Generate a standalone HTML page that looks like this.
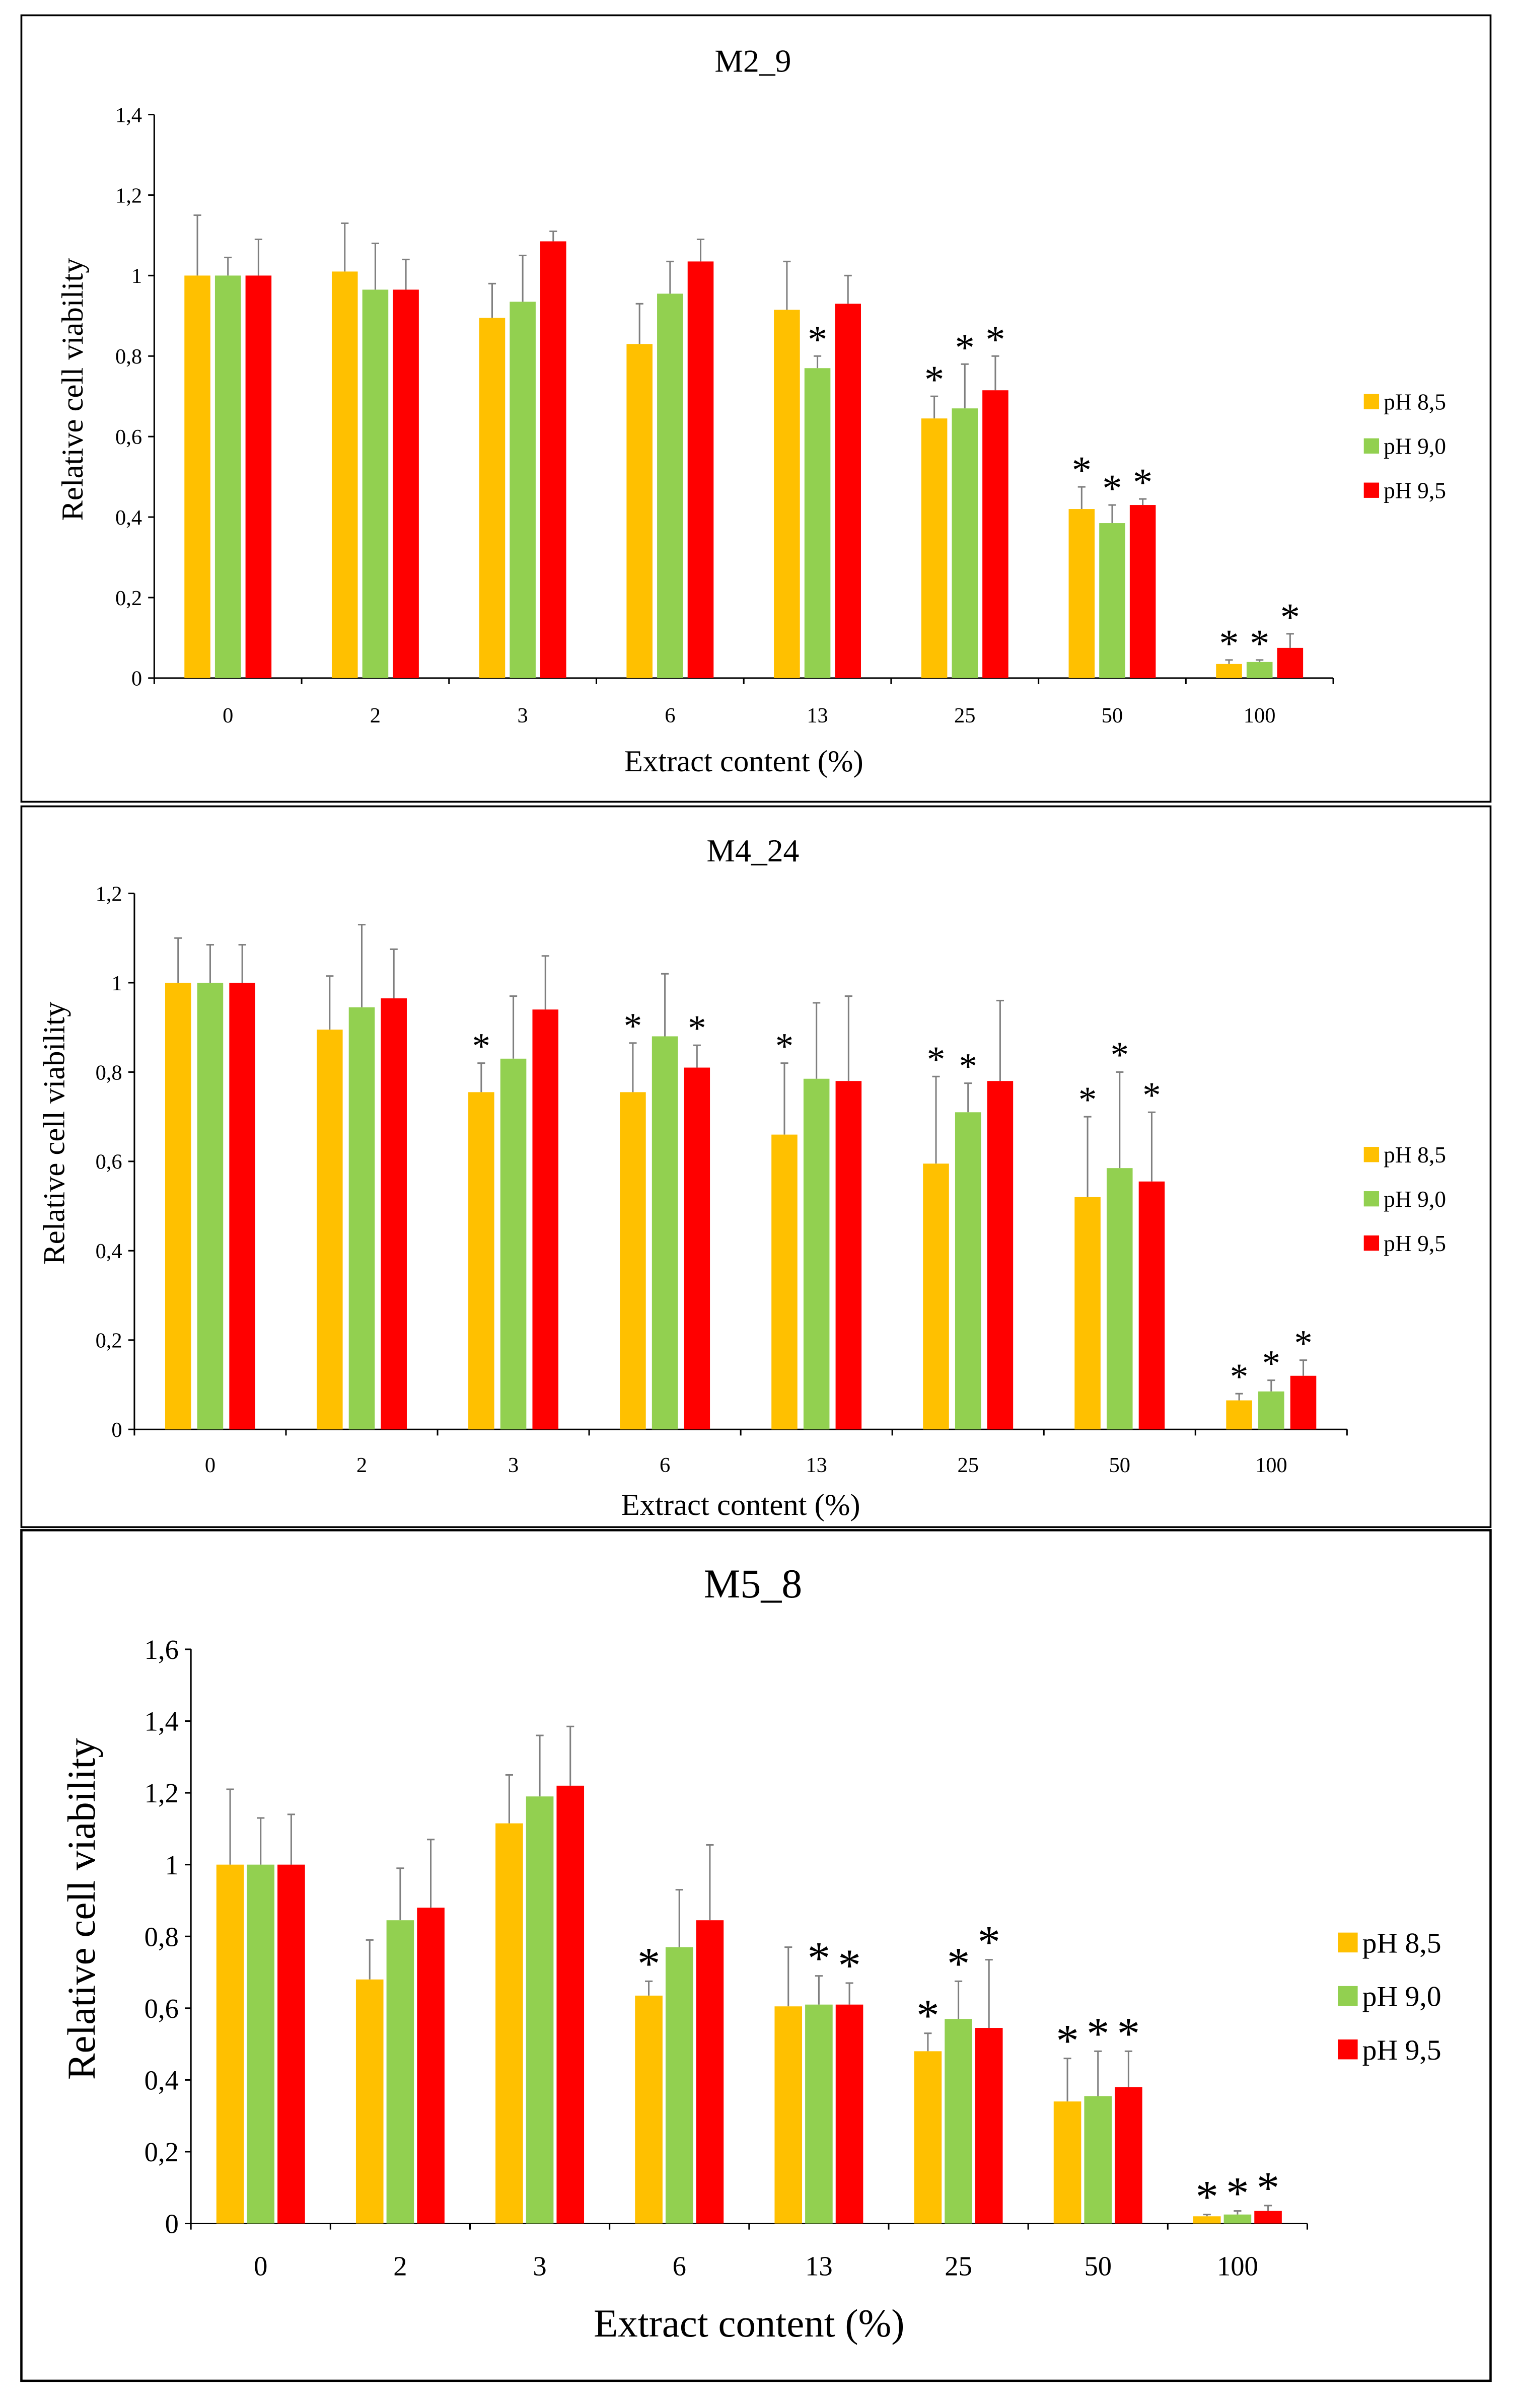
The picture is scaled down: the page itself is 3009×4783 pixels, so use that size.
<!DOCTYPE html>
<html><head><meta charset="utf-8"><style>
html,body{margin:0;padding:0;background:#fff;}
svg{display:block;}
text{font-family:"Liberation Serif",serif;fill:#000;}
</style></head><body>
<svg id="fig" width="3009" height="4783" viewBox="0 0 992 1576.8" xmlns="http://www.w3.org/2000/svg">
<rect x="0" y="0" width="992" height="1576.8" fill="#fff"/>
<rect x="14" y="10" width="962" height="515" fill="none" stroke="#000" stroke-width="1.2"/>
<rect x="14" y="528" width="962" height="472" fill="none" stroke="#000" stroke-width="1.2"/>
<rect x="14" y="1002" width="962" height="557" fill="none" stroke="#000" stroke-width="1.5"/>
</svg>
<script>
const categories = ["0","2","3","6","13","25","50","100"];
const seriesNames = ["pH 8,5","pH 9,0","pH 9,5"];
const colors = ["#FFC000","#92D050","#FF0000"];

const p1Ticks = ["0","0,2","0,4","0,6","0,8","1","1,2","1,4"];
const p1Yellow = [1.00,1.01,0.895,0.83,0.915,0.645,0.42,0.035];
const p1Green  = [1.00,0.965,0.935,0.955,0.77,0.67,0.385,0.04];
const p1Red    = [1.00,0.965,1.085,1.035,0.93,0.715,0.43,0.075];
const p1YellowErr = [1.15,1.13,0.98,0.93,1.035,0.70,0.475,0.045];
const p1GreenErr  = [1.045,1.08,1.05,1.035,0.80,0.78,0.43,0.045];
const p1RedErr    = [1.09,1.04,1.11,1.09,1.0,0.80,0.445,0.11];
const p1StarY = [0,0,0,0,0,1,1,1];
const p1StarG = [0,0,0,0,1,1,1,1];
const p1StarR = [0,0,0,0,0,1,1,1];

const p2Ticks = ["0","0,2","0,4","0,6","0,8","1","1,2"];
const p2Yellow = [1.0,0.895,0.755,0.755,0.66,0.595,0.52,0.065];
const p2Green  = [1.0,0.945,0.83,0.88,0.785,0.71,0.585,0.085];
const p2Red    = [1.0,0.965,0.94,0.81,0.78,0.78,0.555,0.12];
const p2YellowErr = [1.10,1.015,0.82,0.865,0.82,0.79,0.70,0.08];
const p2GreenErr  = [1.085,1.13,0.97,1.02,0.955,0.775,0.80,0.11];
const p2RedErr    = [1.085,1.075,1.06,0.86,0.97,0.96,0.71,0.155];
const p2StarY = [0,0,1,1,1,1,1,1];
const p2StarG = [0,0,0,0,0,1,1,1];
const p2StarR = [0,0,0,1,0,0,1,1];

const p3Ticks = ["0","0,2","0,4","0,6","0,8","1","1,2","1,4","1,6"];
const p3Yellow = [1.0,0.68,1.115,0.635,0.605,0.48,0.34,0.02];
const p3Green  = [1.0,0.845,1.19,0.77,0.61,0.57,0.355,0.025];
const p3Red    = [1.0,0.88,1.22,0.845,0.61,0.545,0.38,0.035];
const p3YellowErr = [1.21,0.79,1.25,0.675,0.77,0.53,0.46,0.025];
const p3GreenErr  = [1.13,0.99,1.36,0.93,0.69,0.675,0.48,0.035];
const p3RedErr    = [1.14,1.07,1.385,1.055,0.67,0.735,0.48,0.05];
const p3StarY = [0,0,0,1,0,1,1,1];
const p3StarG = [0,0,0,0,1,1,1,1];
const p3StarR = [0,0,0,0,1,1,1,1];

const NS = "http://www.w3.org/2000/svg";
const svg = document.getElementById('fig');
function mk(tag, attrs, parent){
  const e = document.createElementNS(NS, tag);
  for (const k in attrs) e.setAttribute(k, attrs[k]);
  (parent||svg).appendChild(e);
  return e;
}

function drawPanel(cfg){
  const g = mk('g', {});
  
  
  const yMax = (cfg.ticks.length-1)*0.2;
  const yScale = v => cfg.y0 - (v/yMax)*(cfg.y0-cfg.yTop);
  const gw = (cfg.x1-cfg.x0)/categories.length;
  const xCenter = i => cfg.x0 + gw*(i+0.5);

  const t = mk('text', {x:cfg.titleX, y:cfg.titleY, 'font-size':cfg.titleFs, 'text-anchor':'middle'}, g);
  t.textContent = cfg.title;
  
  

  const ya = mk('line', {x1:cfg.x0, y1:cfg.yTop, x2:cfg.x0, y2:cfg.y0, stroke:'#000', 'stroke-width':1}, g);
  
  
  cfg.ticks.forEach((lab, i) => {
    const y = yScale(i*0.2);
    mk('line', {x1:cfg.x0-4, y1:y, x2:cfg.x0, y2:y, stroke:'#000', 'stroke-width':1}, g);
    const tl = mk('text', {x:cfg.x0-8, y:y+cfg.tickFs*0.35, 'font-size':cfg.tickFs, 'text-anchor':'end'}, g);
    tl.textContent = lab;
    
    
  });
  const yt = mk('text', {x:0, y:0, 'font-size':cfg.axFs, 'text-anchor':'middle', transform:`translate(${cfg.yTitleX},${cfg.yTitleY}) rotate(-90)`}, g);
  yt.textContent = 'Relative cell viability';
  
  

  const xa = mk('line', {x1:cfg.x0, y1:cfg.y0, x2:cfg.x1, y2:cfg.y0, stroke:'#000', 'stroke-width':1}, g);
  
  
  for (let i=0;i<=categories.length;i++){
    const x = cfg.x0 + gw*i;
    mk('line', {x1:x, y1:cfg.y0, x2:x, y2:cfg.y0+4, stroke:'#000', 'stroke-width':1}, g);
  }
  categories.forEach((c,i) => {
    const tl = mk('text', {x:xCenter(i), y:cfg.xLabY, 'font-size':cfg.tickFs, 'text-anchor':'middle'}, g);
    tl.textContent = c;
    
    
  });
  const xt = mk('text', {x:(cfg.x0+cfg.x1)/2, y:cfg.xTitleY, 'font-size':cfg.axFs, 'text-anchor':'middle'}, g);
  xt.textContent = 'Extract content (%)';
  
  

  cfg.vals.forEach((arr, s) => {
    arr.forEach((v, i) => {
      const cx = xCenter(i) + (s-1)*cfg.off;
      const top = cfg.errs[s][i];
      const el = mk('line', {x1:cx, y1:yScale(top), x2:cx, y2:yScale(v), stroke:'#7f7f7f', 'stroke-width':1}, g);
      
      
      mk('line', {x1:cx-2.5, y1:yScale(top), x2:cx+2.5, y2:yScale(top), stroke:'#7f7f7f', 'stroke-width':1}, g);
      const b = mk('rect', {x:cx-cfg.bw/2, y:yScale(v), width:cfg.bw, height:cfg.y0-yScale(v), fill:colors[s]}, g);
      
      
      if (cfg.stars[s][i]){
        const st = mk('text', {x:cx, y:yScale(top)-cfg.starGap+cfg.starFs*0.45, 'font-size':cfg.starFs, 'text-anchor':'middle', 'font-family':'"Liberation Sans",sans-serif'}, g);
        st.textContent = '*';
        
        
      }
    });
  });

  seriesNames.forEach((n, s) => {
    const y = cfg.legY + s*cfg.legStep;
    const sw = mk('rect', {x:cfg.legX, y:y-cfg.legSw/2, width:cfg.legSw, height:cfg.legSw, fill:colors[s]}, g);
    
    
    const lt = mk('text', {x:cfg.legX+cfg.legSw+3, y:y+cfg.legFs*0.35, 'font-size':cfg.legFs}, g);
    lt.textContent = n;
    
    
  });
}

drawPanel({id:'chart-m2-9', title:'M2_9', titleX:493, titleY:47, titleFs:21,
  x0:101, x1:873, yTop:75, y0:444, ticks:p1Ticks, tickFs:14, axFs:20,
  yTitleX:54, yTitleY:255, xLabY:473, xTitleY:505, bw:17, off:20,
  vals:[p1Yellow,p1Green,p1Red], errs:[p1YellowErr,p1GreenErr,p1RedErr], stars:[p1StarY,p1StarG,p1StarR],
  starGap:14, starFs:26, legX:893, legY:263, legStep:29, legSw:10, legFs:15});

drawPanel({id:'chart-m4-24', title:'M4_24', titleX:493, titleY:564, titleFs:21,
  x0:88, x1:882, yTop:585, y0:936, ticks:p2Ticks, tickFs:14, axFs:20,
  yTitleX:42, yTitleY:742, xLabY:964, xTitleY:992, bw:17, off:21,
  vals:[p2Yellow,p2Green,p2Red], errs:[p2YellowErr,p2GreenErr,p2RedErr], stars:[p2StarY,p2StarG,p2StarR],
  starGap:14, starFs:24, legX:893, legY:756, legStep:29, legSw:10, legFs:15});

drawPanel({id:'chart-m5-8', title:'M5_8', titleX:493, titleY:1046, titleFs:27,
  x0:125, x1:856, yTop:1080, y0:1456, ticks:p3Ticks, tickFs:18, axFs:26,
  yTitleX:62, yTitleY:1250, xLabY:1490, xTitleY:1530, bw:18, off:20,
  vals:[p3Yellow,p3Green,p3Red], errs:[p3YellowErr,p3GreenErr,p3RedErr], stars:[p3StarY,p3StarG,p3StarR],
  starGap:15, starFs:30, legX:876, legY:1272, legStep:35, legSw:13, legFs:19});
</script>
</body></html>
